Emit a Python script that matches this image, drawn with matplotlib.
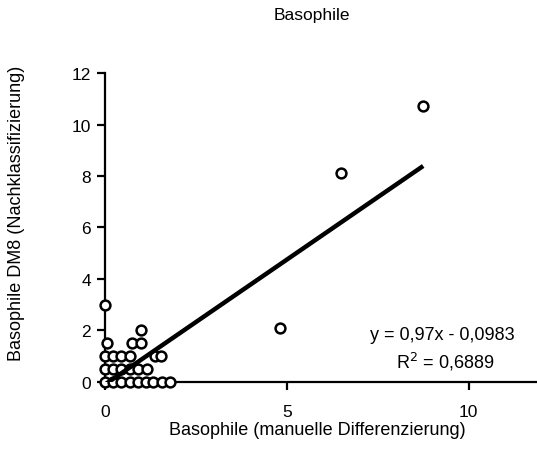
import matplotlib
matplotlib.use("Agg")
import matplotlib.pyplot as plt
import numpy as np

plt.rcParams['font.family'] = ['Liberation Sans', 'DejaVu Sans']

# Data (manual differentiation vs DM8 reclassification)
x_vals = [0, 0.22, 0.45, 0.7, 0.92, 1.12, 1.33, 1.57, 1.8,
          0, 0.22, 0.45, 0.7, 0.92, 1.15,
          0, 0.22, 0.45, 0.7, 1.38, 1.55,
          0.05, 0.75, 1.0,
          1.0,
          0,
          4.8, 6.5, 8.75]
y_vals = [0, 0, 0, 0, 0, 0, 0, 0, 0,
          0.5, 0.5, 0.5, 0.5, 0.5, 0.5,
          1, 1, 1, 1, 1, 1,
          1.5, 1.5, 1.5,
          2,
          3,
          2.1, 8.1, 10.7]
slope = 0.97
intercept = -0.0983
r2_text = "0,6889"
x_ticks = [0, 5, 10]
y_ticks = [0, 2, 4, 6, 8, 10, 12]

fig = plt.figure(figsize=(5.37, 4.64), dpi=100)
ax = fig.add_axes([0.1955, 0.1746, 0.8025, 0.6659])

ax.scatter(x_vals, y_vals, s=50, facecolors='white', edgecolors='black',
           linewidths=1.8, zorder=3, clip_on=False)

xl = np.array([0, max(x_vals)])
ax.plot(xl, slope * xl + intercept, color='black', lw=3.2, zorder=4,
        solid_capstyle='butt')

ax.set_xlim(0, 11.85)
ax.set_ylim(0, 12)
ax.set_xticks(x_ticks)
ax.set_yticks(y_ticks)
for s in ['top', 'right']:
    ax.spines[s].set_visible(False)
for s in ['left', 'bottom']:
    ax.spines[s].set_linewidth(1.6)
ax.tick_params(axis='both', direction='out', length=6, width=1.6,
               labelsize=12.5)
ax.tick_params(axis='x', pad=10)
ax.tick_params(axis='y', pad=4)

ax.text(0.951, 0.155, "y = 0,97x - 0,0983", transform=ax.transAxes,
        ha='right', va='center', fontsize=13)
ax.text(0.905, 0.068, "R$^{2}$ = " + r2_text, transform=ax.transAxes,
        ha='right', va='center', fontsize=13)

fig.text(0.58, 0.966, "Basophile", ha='center', va='center', fontsize=12.5)
fig.text(0.59, 0.073, "Basophile (manuelle Differenzierung)", ha='center',
         va='center', fontsize=13)
fig.text(0.03, 0.54, "Basophile DM8 (Nachklassifizierung)", ha='center',
         va='center', rotation=90, fontsize=13)

fig.savefig("out.png", dpi=100)
